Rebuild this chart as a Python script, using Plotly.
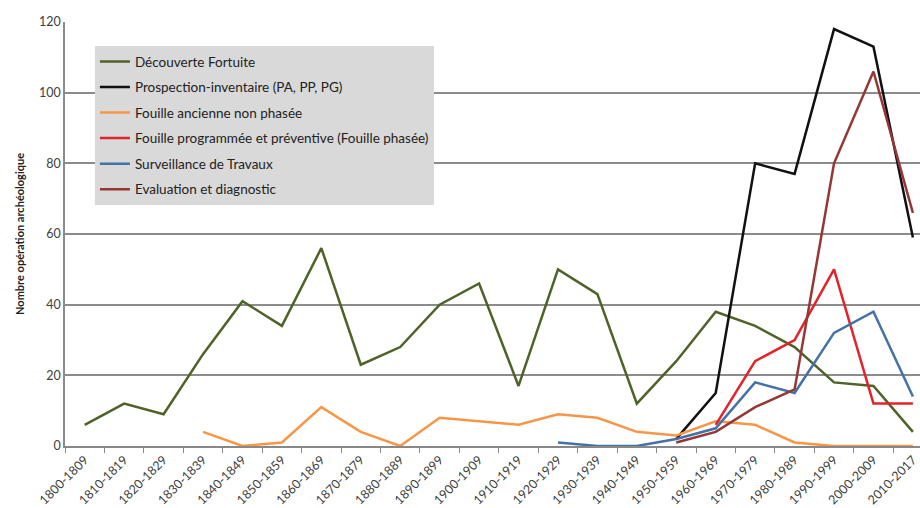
import plotly.graph_objects as go

periods = ["1800-1809", "1810-1819", "1820-1829", "1830-1839", "1840-1849",
           "1850-1859", "1860-1869", "1870-1879", "1880-1889", "1890-1899",
           "1900-1909", "1910-1919", "1920-1929", "1930-1939", "1940-1949",
           "1950-1959", "1960-1969", "1970-1979", "1980-1989", "1990-1999",
           "2000-2009", "2010-2017"]

N = None
decouverte_fortuite = [6, 12, 9, 26, 41, 34, 56, 23, 28, 40, 46, 17, 50, 43, 12,
                       24, 38, 34, 28, 18, 17, 4]
prospection_inventaire = [N, N, N, N, N, N, N, N, N, N, N, N, N, N, N,
                          2, 15, 80, 77, 118, 113, 59]
fouille_ancienne = [N, N, N, 4, 0, 1, 11, 4, 0, 8, 7, 6, 9, 8, 4,
                    3, 7, 6, 1, 0, 0, 0]
fouille_programmee = [N, N, N, N, N, N, N, N, N, N, N, N, N, N, N,
                      N, 6, 24, 30, 50, 12, 12]
surveillance_travaux = [N, N, N, N, N, N, N, N, N, N, N, N, 1, 0, 0,
                        2, 5, 18, 15, 32, 38, 14]
evaluation_diagnostic = [N, N, N, N, N, N, N, N, N, N, N, N, N, N, N,
                         1, 4, 11, 16, 80, 106, 66]

series = [
    ("Découverte Fortuite", decouverte_fortuite, "#4F6228"),
    ("Prospection-inventaire (PA, PP, PG)", prospection_inventaire, "#111111"),
    ("Fouille ancienne non phasée", fouille_ancienne, "#F79646"),
    ("Fouille programmée et préventive (Fouille phasée)", fouille_programmee, "#E2232A"),
    ("Surveillance de Travaux", surveillance_travaux, "#4472A8"),
    ("Evaluation et diagnostic", evaluation_diagnostic, "#953735"),
]

fig = go.Figure()
for i, (name, vals, color) in enumerate(series):
    fig.add_trace(go.Scatter(
        x=periods, y=vals, name=name, mode="lines",
        line=dict(color=color, width=2.5),
        legendgroup=f"g{i}", cliponaxis=False,
    ))

fig.update_layout(
    width=920, height=508,
    margin=dict(l=65, r=0, t=22, b=62),
    paper_bgcolor="white", plot_bgcolor="white",
    font=dict(family="Lato, Carlito, Calibri, sans-serif", size=12, color="#404040"),
    showlegend=True,
    legend=dict(
        x=0.035, y=0.943, xanchor="left", yanchor="top",
        bgcolor="#D9D9D9", font=dict(size=13.5, color="#222222"),
        traceorder="grouped", tracegroupgap=5,
        itemwidth=30,
    ),
    xaxis=dict(
        type="category", range=[-0.5, 21.18],
        tickangle=-45, tickson="boundaries", ticks="outside", ticklen=5,
        tickcolor="#888888", showline=True, linecolor="#888888", linewidth=1.5,
        showgrid=False, tickfont=dict(size=12.5, color="#404040"),
    ),
    yaxis=dict(
        range=[0, 120], dtick=20, showgrid=True, gridcolor="#8C8C8C", gridwidth=1.5,
        showline=True, linecolor="#8C8C8C", linewidth=1.5, zeroline=False,
        ticks="", tickfont=dict(size=12.5, color="#404040"),
        title=dict(text="<b>Nombre opération archéologique</b>",
                   font=dict(size=11, color="#222222"), standoff=12),
    ),
)

fig.write_html("out.html")
